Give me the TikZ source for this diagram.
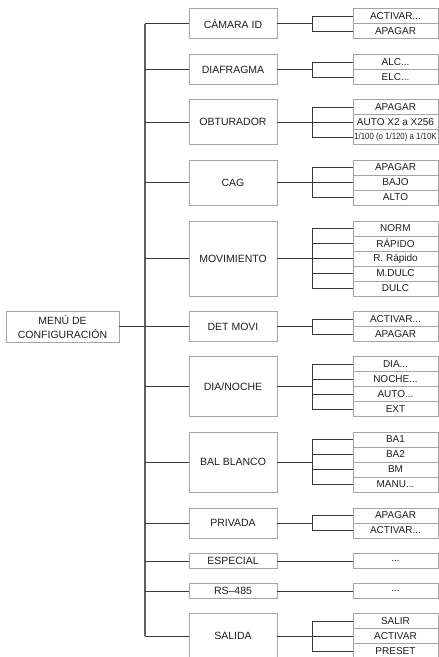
\documentclass[tikz,border=0pt]{standalone}
\usepackage{fontspec}
\setmainfont{Liberation Sans}
\usepackage{graphicx}
\usepackage{xcolor}
\definecolor{boxgray}{RGB}{165,165,165}
\definecolor{linegray}{RGB}{55,55,55}
\definecolor{textgray}{RGB}{30,30,30}
\usetikzlibrary{positioning}

\begin{document}
\begin{tikzpicture}[x=1pt, y=-1pt, node distance=0pt,
    box/.style={draw=boxgray, line width=0.9pt, fill=white, text=textgray,
        inner sep=0pt, outer sep=0pt, font=\fontsize{10.5}{14}\selectfont},
    menubox/.style={box, minimum width=88pt, anchor=north west},
    leafbox/.style={box, minimum width=85pt, minimum height=15pt, font=\fontsize{10}{12}\selectfont},
    link/.style={draw=linegray, line width=0.9pt}]
    \clip (0,0) rectangle (439,657);

    \coordinate (trunk) at (145,0);
    \coordinate (fork) at (312,0);

    % Root
    \node[box, minimum width=113pt, minimum height=31pt, align=center] (menu) at (62.5,326.5) {MENÚ DE\\CONFIGURACIÓN};

    % Menu entries
    \node[menubox, minimum height=30pt] (cam) at (189,8.5) {CÁMARA ID};
    \node[menubox, minimum height=30pt] (dia) at (189,54.5) {DIAFRAGMA};
    \node[menubox, minimum height=45pt] (obt) at (189,99.5) {OBTURADOR};
    \node[menubox, minimum height=45pt] (cag) at (189,160) {CAG};
    \node[menubox, minimum height=75pt] (mov) at (189,221) {MOVIMIENTO};
    \node[menubox, minimum height=30pt] (det) at (189,311.5) {DET MOVI};
    \node[menubox, minimum height=60pt] (dn) at (189,356.5) {DIA/NOCHE};
    \node[menubox, minimum height=60pt] (bal) at (189,432) {BAL BLANCO};
    \node[menubox, minimum height=30pt] (pri) at (189,508) {PRIVADA};
    \node[menubox, minimum height=15pt] (esp) at (189,553.5) {ESPECIAL};
    \node[menubox, minimum height=15pt] (rs) at (189,583.5) {RS–485};
    \node[menubox, minimum height=45pt] (sal) at (189,613.5) {SALIDA};

    % Options
    \node[leafbox, anchor=north west] (cam1) at (353,8.5) {ACTIVAR...};
    \node[leafbox, below=of cam1] (cam2) {APAGAR};

    \node[leafbox, anchor=north west] (dia1) at (353,54.5) {ALC...};
    \node[leafbox, below=of dia1] (dia2) {ELC...};

    \node[leafbox, anchor=north west] (obt1) at (353,99.5) {APAGAR};
    \node[leafbox, below=of obt1] (obt2) {AUTO X2 a X256};
    \node[leafbox, below=of obt2] (obt3) {\fontsize{9}{9}\selectfont\scalebox{0.87}[1]{1/100 (o 1/120) a 1/10K}};

    \node[leafbox, anchor=north west] (cag1) at (353,160) {APAGAR};
    \node[leafbox, below=of cag1] (cag2) {BAJO};
    \node[leafbox, below=of cag2] (cag3) {ALTO};

    \node[leafbox, anchor=north west] (mov1) at (353,221) {NORM};
    \node[leafbox, below=of mov1] (mov2) {RÁPIDO};
    \node[leafbox, below=of mov2] (mov3) {R. Rápido};
    \node[leafbox, below=of mov3] (mov4) {M.DULC};
    \node[leafbox, below=of mov4] (mov5) {DULC};

    \node[leafbox, anchor=north west] (det1) at (353,311.5) {ACTIVAR...};
    \node[leafbox, below=of det1] (det2) {APAGAR};

    \node[leafbox, anchor=north west] (dn1) at (353,356.5) {DIA...};
    \node[leafbox, below=of dn1] (dn2) {NOCHE...};
    \node[leafbox, below=of dn2] (dn3) {AUTO...};
    \node[leafbox, below=of dn3] (dn4) {EXT};

    \node[leafbox, anchor=north west] (bal1) at (353,432) {BA1};
    \node[leafbox, below=of bal1] (bal2) {BA2};
    \node[leafbox, below=of bal2] (bal3) {BM};
    \node[leafbox, below=of bal3] (bal4) {MANU...};

    \node[leafbox, anchor=north west] (pri1) at (353,508) {APAGAR};
    \node[leafbox, below=of pri1] (pri2) {ACTIVAR...};

    \node[leafbox, anchor=north west] (esp1) at (353,553.5) {...};
    \node[leafbox, anchor=north west] (rs1) at (353,583.5) {...};

    \node[leafbox, anchor=north west] (sal1) at (353,613.5) {SALIR};
    \node[leafbox, below=of sal1] (sal2) {ACTIVAR};
    \node[leafbox, below=of sal2] (sal3) {PRESET};

    % Trunk
    \draw[link] (menu.east) -- (trunk |- menu.east);
    \draw[link, draw=linegray!80, line width=1.2pt] (trunk |- cam.west) -- (trunk |- sal.west);

    % Branches and forks
    \foreach \g/\n in {cam/2,dia/2,obt/3,cag/3,mov/5,det/2,dn/4,bal/4,pri/2,esp/1,rs/1,sal/3}{
        \draw[link] (trunk |- \g.west) -- (\g.west);
        \draw[link] (\g.east) -- (fork |- \g.east);
        \draw[link] (fork |- \g1.west) -- (fork |- \g\n.west);
        \foreach \i in {1,...,\n}
            \draw[link] (fork |- \g\i.west) -- (\g\i.west);
    }
\end{tikzpicture}
\end{document}
